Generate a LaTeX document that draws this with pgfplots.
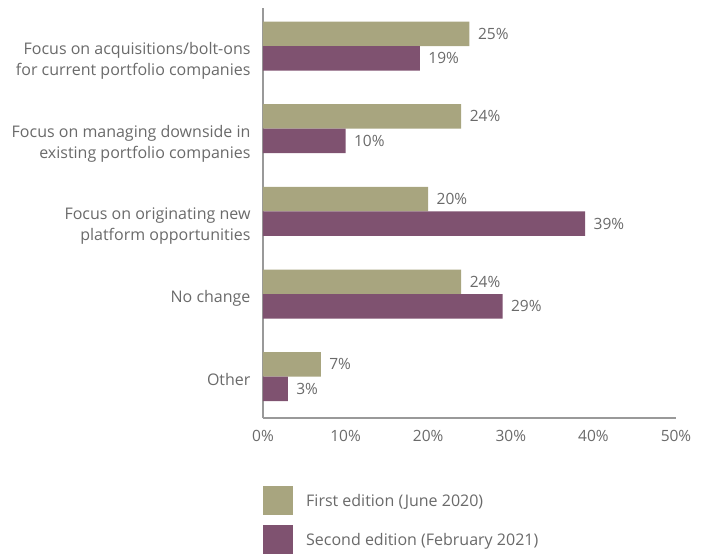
\documentclass[border=0pt]{standalone}
\usepackage{pgfplots}
\pgfplotsset{compat=1.18}
\usepackage{fontspec}
\setmainfont{Open Sans}
\definecolor{olive}{HTML}{A8A57F}
\definecolor{plum}{HTML}{7F5270}
\definecolor{txt}{HTML}{6A6A6A}
\definecolor{axl}{HTML}{999999}
\begin{document}
\begin{tikzpicture}
\useasboundingbox (-263pt,-137pt) rectangle (445pt,418pt);
\begin{axis}[
  scale only axis,
  width=413pt, height=410pt,
  xbar, bar width=24.5pt,
  xmin=0, xmax=50,
  ymin=-0.5, ymax=4.46,
  xtick={0,10,20,30,40,50},
  xticklabel={\pgfmathprintnumber{\tick}\%},
  ytick={0,1,2,3,4},
  yticklabels={Other, No change, {Focus on originating new\\platform opportunities}, {Focus on managing downside in\\existing portfolio companies}, {Focus on acquisitions/bolt-ons\\for current portfolio companies}},
  major tick length=0pt,
  axis x line*=bottom, axis y line*=left,
  axis line style={axl, line width=1.2pt},
  x axis line style={-}, y axis line style={-},
  tick label style={text=txt},
  xticklabel style={font=\fontsize{15.5}{19}\selectfont, yshift=-9pt},
  yticklabel style={font=\fontsize{16}{21}\selectfont, align=right, anchor=north east, xshift=-9pt, yshift=7pt},
  /pgf/number format/assume math mode=true,
  nodes near coords={\pgfmathprintnumber{\pgfplotspointmeta}\%},
  nodes near coords style={anchor=west, xshift=5pt, font=\fontsize{15.5}{18}\selectfont, text=txt},
  legend style={at={(0,0)}, anchor=north west, yshift=-68pt, draw=none, inner sep=0pt, row sep=10pt, font=\fontsize{16}{19}\selectfont, text=txt, legend cell align=left},
  legend image code/.code={\fill[#1] (0pt,-14.5pt) rectangle (30pt,14.5pt);},
  clip=false,
]
\addplot[fill=olive, draw=none, bar shift=12.25pt] coordinates {(7,0) (24,1) (20,2) (24,3) (25,4)};
\addlegendentry{\hspace{11pt}First edition (June 2020)}
\addplot[fill=plum, draw=none, bar shift=-12.25pt] coordinates {(3,0) (29,1) (39,2) (10,3) (19,4)};
\addlegendentry{\hspace{11pt}Second edition (February 2021)}
\end{axis}
\end{tikzpicture}
\end{document}
